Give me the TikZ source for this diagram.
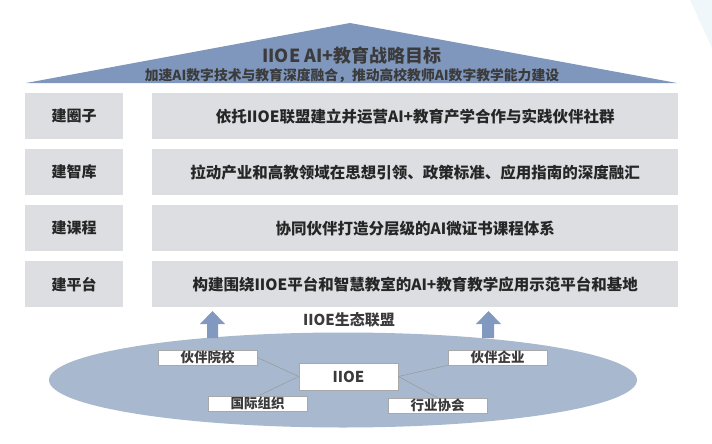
\documentclass[tikz,border=0pt]{standalone}
\usepackage{fontspec}
\setmainfont{Noto Sans CJK SC}
\usetikzlibrary{shapes.geometric,shapes.arrows}
\definecolor{roofblue}{HTML}{8097BD}
\definecolor{ellblue}{HTML}{A7B8CF}
\definecolor{rowgray}{HTML}{DCDEE1}
\definecolor{arrblue}{HTML}{8199BF}
\definecolor{txtdark}{HTML}{262626}
\definecolor{txtmid}{HTML}{3B3B3B}
\definecolor{paleblue}{HTML}{EFF7FA}
\definecolor{lbord}{HTML}{A8A8A8}
\begin{document}
\begin{tikzpicture}[x=1pt,y=-1pt,
  rowlabel/.style={fill=rowgray,draw=none,minimum width=98pt,minimum height=46pt,inner sep=0pt,anchor=north west,
    font=\fontsize{15}{15}\selectfont\bfseries,text=txtdark},
  rowbody/.style={fill=rowgray,draw=none,minimum width=526pt,minimum height=46pt,inner sep=0pt,anchor=north west,
    font=\fontsize{15.5}{15.5}\selectfont\bfseries,text=txtdark},
  member/.style={fill=white,draw=lbord,line width=0.6pt,minimum width=99pt,minimum height=15pt,inner sep=0pt,
    font=\fontsize{13.5}{13.5}\selectfont\bfseries,text=txtmid},
  link/.style={draw=gray!80,line width=0.5pt},
  uparrow/.style={fill=arrblue,draw=none}
]
\useasboundingbox (0,0) rectangle (712,444);
% faint decoration top right
\fill[paleblue] (690,0) -- (712,0) -- (712,48) -- cycle;
% roof
\fill[roofblue] (350,23) -- (677,83) -- (26,83) -- cycle;
\node[font=\fontsize{18}{18}\selectfont\bfseries,text=txtmid] (title) at (352,55.5) {IIOE AI+教育战略目标};
\node[font=\fontsize{13.8}{13.8}\selectfont\bfseries,text=txtmid] (subtitle) at (352,76) {加速AI数字技术与教育深度融合，推动高校教师AI数字教学能力建设};
% rows
\node[rowlabel] (l1) at (25,93) {建圈子};
\node[rowbody] (b1) at (152,93) {依托IIOE联盟建立并运营AI+教育产学合作与实践伙伴社群};
\node[rowlabel] (l2) at (25,149) {建智库};
\node[rowbody] (b2) at (152,149) {拉动产业和高教领域在思想引领、政策标准、应用指南的深度融汇};
\node[rowlabel] (l3) at (25,205) {建课程};
\node[rowbody] (b3) at (152,205) {协同伙伴打造分层级的AI微证书课程体系};
\node[rowlabel] (l4) at (25,261) {建平台};
\node[rowbody] (b4) at (152,261) {构建围绕IIOE平台和智慧教室的AI+教育教学应用示范平台和基地};
% ellipse
\node[ellipse,fill=ellblue,draw=none,minimum width=588pt,minimum height=95pt,inner sep=0pt] (eco) at (343,380) {};
% arrows
\fill[uparrow] (207,338) -- (207,324) -- (200,324) -- (212.5,311) -- (225,324) -- (218,324) -- (218,338) -- cycle;
\fill[uparrow] (482,338) -- (482,324) -- (476,324) -- (488.5,311) -- (501,324) -- (494,324) -- (494,338) -- cycle;
\node[font=\fontsize{15}{15}\selectfont\bfseries,text=txtmid] (ecolabel) at (349,320) {IIOE生态联盟};
% members
\node[member,minimum width=99pt,minimum height=27pt,font=\fontsize{15}{15}\selectfont\bfseries] (iioe) at (348.5,376.5) {IIOE};
\node[member] (m1) at (207.5,357.5) {伙伴院校};
\node[member] (m2) at (257.5,403.5) {国际组织};
\node[member] (m3) at (497.5,357.5) {伙伴企业};
\node[member] (m4) at (437.5,405.5) {行业协会};
\draw[link] (m1.east) -- (iioe.west);
\draw[link] (m2.north) ++(1,0) coordinate (m2n) (m2n) -- (iioe.west);
\draw[link] (iioe.east) -- (m3.south west);
\draw[link] (iioe.east) -- (m4.north);
\end{tikzpicture}
\end{document}
